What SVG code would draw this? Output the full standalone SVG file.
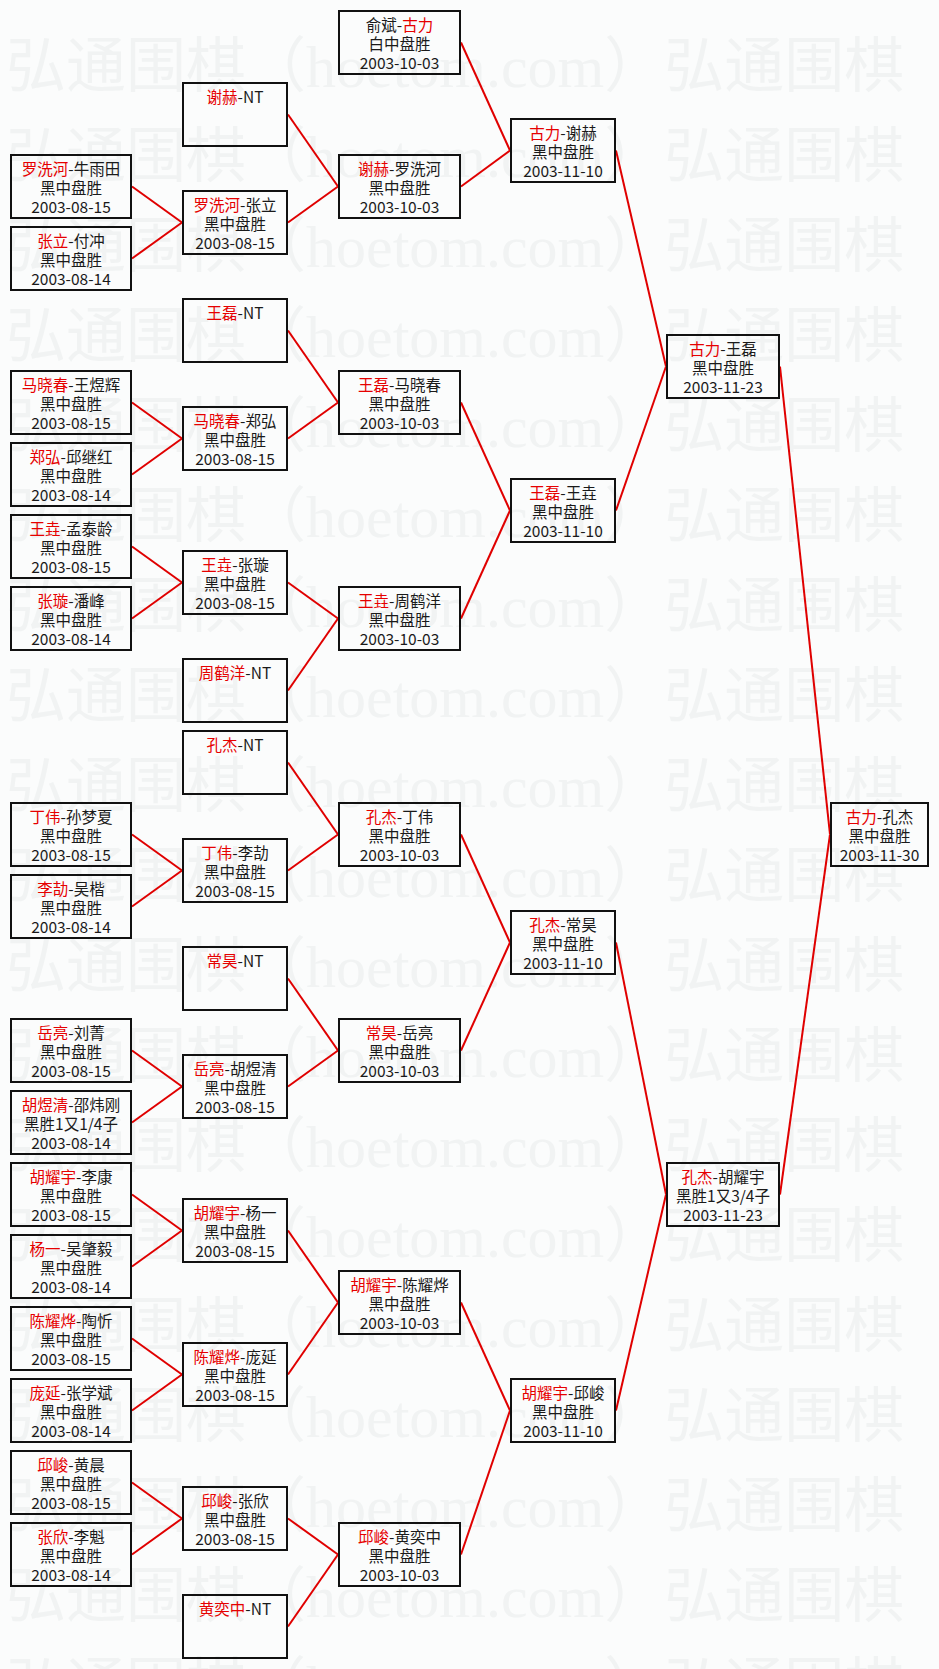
<svg xmlns="http://www.w3.org/2000/svg" xmlns:xlink="http://www.w3.org/1999/xlink" width="939" height="1669" viewBox="0 0 939 1669">
<style>
.bg{fill:#fbfcfc}
.wm{font-family:"Noto Sans CJK SC",sans-serif;font-size:60px;fill:#f1f3f3}
.wl{font-family:"Liberation Serif",serif}
.n rect{fill:none;stroke:#111;stroke-width:2}
.n text{font-family:"Noto Sans CJK SC",sans-serif;font-size:15.5px;fill:#1a1a1a;text-anchor:middle}
.r{fill:#e60000}
#links line{stroke:#e00000;stroke-width:2}
</style>
<defs>
<text id="wmrow" class="wm" x="6" y="0">弘通围棋（<tspan class="wl">hoetom.com</tspan>）弘通围棋（<tspan class="wl">hoetom.com</tspan>）</text>
</defs>
<rect class="bg" x="0" y="0" width="939" height="1669"/>
<g id="watermark">
<use xlink:href="#wmrow" y="87"/><use xlink:href="#wmrow" y="177"/><use xlink:href="#wmrow" y="267"/><use xlink:href="#wmrow" y="357"/><use xlink:href="#wmrow" y="447"/><use xlink:href="#wmrow" y="537"/><use xlink:href="#wmrow" y="627"/><use xlink:href="#wmrow" y="717"/><use xlink:href="#wmrow" y="807"/><use xlink:href="#wmrow" y="897"/><use xlink:href="#wmrow" y="987"/><use xlink:href="#wmrow" y="1077"/><use xlink:href="#wmrow" y="1167"/><use xlink:href="#wmrow" y="1257"/><use xlink:href="#wmrow" y="1347"/><use xlink:href="#wmrow" y="1437"/><use xlink:href="#wmrow" y="1527"/><use xlink:href="#wmrow" y="1617"/><use xlink:href="#wmrow" y="1707"/>
</g>
<g id="links">
<line x1="132" y1="186.5" x2="182" y2="222.5"/><line x1="132" y1="258.5" x2="182" y2="222.5"/>
<line x1="132" y1="402.5" x2="182" y2="438.5"/><line x1="132" y1="474.5" x2="182" y2="438.5"/>
<line x1="132" y1="546.5" x2="182" y2="582.5"/><line x1="132" y1="618.5" x2="182" y2="582.5"/>
<line x1="132" y1="834.5" x2="182" y2="870.5"/><line x1="132" y1="906.5" x2="182" y2="870.5"/>
<line x1="132" y1="1050.5" x2="182" y2="1086.5"/><line x1="132" y1="1122.5" x2="182" y2="1086.5"/>
<line x1="132" y1="1194.5" x2="182" y2="1230.5"/><line x1="132" y1="1266.5" x2="182" y2="1230.5"/>
<line x1="132" y1="1338.5" x2="182" y2="1374.5"/><line x1="132" y1="1410.5" x2="182" y2="1374.5"/>
<line x1="132" y1="1482.5" x2="182" y2="1518.5"/><line x1="132" y1="1554.5" x2="182" y2="1518.5"/>
<line x1="288" y1="114.5" x2="338" y2="186.5"/><line x1="288" y1="222.5" x2="338" y2="186.5"/>
<line x1="288" y1="330.5" x2="338" y2="402.5"/><line x1="288" y1="438.5" x2="338" y2="402.5"/>
<line x1="288" y1="582.5" x2="338" y2="618.5"/><line x1="288" y1="690.5" x2="338" y2="618.5"/>
<line x1="288" y1="762.5" x2="338" y2="834.5"/><line x1="288" y1="870.5" x2="338" y2="834.5"/>
<line x1="288" y1="978.5" x2="338" y2="1050.5"/><line x1="288" y1="1086.5" x2="338" y2="1050.5"/>
<line x1="288" y1="1230.5" x2="338" y2="1302.5"/><line x1="288" y1="1374.5" x2="338" y2="1302.5"/>
<line x1="288" y1="1518.5" x2="338" y2="1554.5"/><line x1="288" y1="1626.5" x2="338" y2="1554.5"/>
<line x1="461" y1="42.5" x2="510" y2="150.5"/><line x1="461" y1="186.5" x2="510" y2="150.5"/>
<line x1="461" y1="402.5" x2="510" y2="510.5"/><line x1="461" y1="618.5" x2="510" y2="510.5"/>
<line x1="461" y1="834.5" x2="510" y2="942.5"/><line x1="461" y1="1050.5" x2="510" y2="942.5"/>
<line x1="461" y1="1302.5" x2="510" y2="1410.5"/><line x1="461" y1="1554.5" x2="510" y2="1410.5"/>
<line x1="616" y1="150.5" x2="666" y2="366.5"/><line x1="616" y1="510.5" x2="666" y2="366.5"/>
<line x1="616" y1="942.5" x2="666" y2="1194.5"/><line x1="616" y1="1410.5" x2="666" y2="1194.5"/>
<line x1="780" y1="366.5" x2="830" y2="834.5"/><line x1="780" y1="1194.5" x2="830" y2="834.5"/>
</g>
<!-- Column A -->
<g id="a4" class="n"><rect x="11" y="155" width="120" height="63"/><text x="71" y="175"><tspan class="r">罗洗河</tspan>-牛雨田</text><text x="71" y="194">黑中盘胜</text><text x="71" y="212.5">2003-08-15</text></g>
<g id="a6" class="n"><rect x="11" y="227" width="120" height="63"/><text x="71" y="247"><tspan class="r">张立</tspan>-付冲</text><text x="71" y="266">黑中盘胜</text><text x="71" y="284.5">2003-08-14</text></g>
<g id="a10" class="n"><rect x="11" y="371" width="120" height="63"/><text x="71" y="391"><tspan class="r">马晓春</tspan>-王煜辉</text><text x="71" y="410">黑中盘胜</text><text x="71" y="428.5">2003-08-15</text></g>
<g id="a12" class="n"><rect x="11" y="443" width="120" height="63"/><text x="71" y="463"><tspan class="r">郑弘</tspan>-邱继红</text><text x="71" y="482">黑中盘胜</text><text x="71" y="500.5">2003-08-14</text></g>
<g id="a14" class="n"><rect x="11" y="515" width="120" height="63"/><text x="71" y="535"><tspan class="r">王垚</tspan>-孟泰龄</text><text x="71" y="554">黑中盘胜</text><text x="71" y="572.5">2003-08-15</text></g>
<g id="a16" class="n"><rect x="11" y="587" width="120" height="63"/><text x="71" y="607"><tspan class="r">张璇</tspan>-潘峰</text><text x="71" y="626">黑中盘胜</text><text x="71" y="644.5">2003-08-14</text></g>
<g id="a22" class="n"><rect x="11" y="803" width="120" height="63"/><text x="71" y="823"><tspan class="r">丁伟</tspan>-孙梦夏</text><text x="71" y="842">黑中盘胜</text><text x="71" y="860.5">2003-08-15</text></g>
<g id="a24" class="n"><rect x="11" y="875" width="120" height="63"/><text x="71" y="895"><tspan class="r">李劼</tspan>-吴楷</text><text x="71" y="914">黑中盘胜</text><text x="71" y="932.5">2003-08-14</text></g>
<g id="a28" class="n"><rect x="11" y="1019" width="120" height="63"/><text x="71" y="1039"><tspan class="r">岳亮</tspan>-刘菁</text><text x="71" y="1058">黑中盘胜</text><text x="71" y="1076.5">2003-08-15</text></g>
<g id="a30" class="n"><rect x="11" y="1091" width="120" height="63"/><text x="71" y="1111"><tspan class="r">胡煜清</tspan>-邵炜刚</text><text x="71" y="1130">黑胜1又1/4子</text><text x="71" y="1148.5">2003-08-14</text></g>
<g id="a32" class="n"><rect x="11" y="1163" width="120" height="63"/><text x="71" y="1183"><tspan class="r">胡耀宇</tspan>-李康</text><text x="71" y="1202">黑中盘胜</text><text x="71" y="1220.5">2003-08-15</text></g>
<g id="a34" class="n"><rect x="11" y="1235" width="120" height="63"/><text x="71" y="1255"><tspan class="r">杨一</tspan>-吴肇毅</text><text x="71" y="1274">黑中盘胜</text><text x="71" y="1292.5">2003-08-14</text></g>
<g id="a36" class="n"><rect x="11" y="1307" width="120" height="63"/><text x="71" y="1327"><tspan class="r">陈耀烨</tspan>-陶忻</text><text x="71" y="1346">黑中盘胜</text><text x="71" y="1364.5">2003-08-15</text></g>
<g id="a38" class="n"><rect x="11" y="1379" width="120" height="63"/><text x="71" y="1399"><tspan class="r">庞延</tspan>-张学斌</text><text x="71" y="1418">黑中盘胜</text><text x="71" y="1436.5">2003-08-14</text></g>
<g id="a40" class="n"><rect x="11" y="1451" width="120" height="63"/><text x="71" y="1471"><tspan class="r">邱峻</tspan>-黄晨</text><text x="71" y="1490">黑中盘胜</text><text x="71" y="1508.5">2003-08-15</text></g>
<g id="a42" class="n"><rect x="11" y="1523" width="120" height="63"/><text x="71" y="1543"><tspan class="r">张欣</tspan>-李魁</text><text x="71" y="1562">黑中盘胜</text><text x="71" y="1580.5">2003-08-14</text></g>
<!-- Column B -->
<g id="b2" class="n"><rect x="183" y="83" width="104" height="63"/><text x="235" y="103"><tspan class="r">谢赫</tspan>-NT</text></g>
<g id="b5" class="n"><rect x="183" y="191" width="104" height="63"/><text x="235" y="211"><tspan class="r">罗洗河</tspan>-张立</text><text x="235" y="230">黑中盘胜</text><text x="235" y="248.5">2003-08-15</text></g>
<g id="b8" class="n"><rect x="183" y="299" width="104" height="63"/><text x="235" y="319"><tspan class="r">王磊</tspan>-NT</text></g>
<g id="b11" class="n"><rect x="183" y="407" width="104" height="63"/><text x="235" y="427"><tspan class="r">马晓春</tspan>-郑弘</text><text x="235" y="446">黑中盘胜</text><text x="235" y="464.5">2003-08-15</text></g>
<g id="b15" class="n"><rect x="183" y="551" width="104" height="63"/><text x="235" y="571"><tspan class="r">王垚</tspan>-张璇</text><text x="235" y="590">黑中盘胜</text><text x="235" y="608.5">2003-08-15</text></g>
<g id="b18" class="n"><rect x="183" y="659" width="104" height="63"/><text x="235" y="679"><tspan class="r">周鹤洋</tspan>-NT</text></g>
<g id="b20" class="n"><rect x="183" y="731" width="104" height="63"/><text x="235" y="751"><tspan class="r">孔杰</tspan>-NT</text></g>
<g id="b23" class="n"><rect x="183" y="839" width="104" height="63"/><text x="235" y="859"><tspan class="r">丁伟</tspan>-李劼</text><text x="235" y="878">黑中盘胜</text><text x="235" y="896.5">2003-08-15</text></g>
<g id="b26" class="n"><rect x="183" y="947" width="104" height="63"/><text x="235" y="967"><tspan class="r">常昊</tspan>-NT</text></g>
<g id="b29" class="n"><rect x="183" y="1055" width="104" height="63"/><text x="235" y="1075"><tspan class="r">岳亮</tspan>-胡煜清</text><text x="235" y="1094">黑中盘胜</text><text x="235" y="1112.5">2003-08-15</text></g>
<g id="b33" class="n"><rect x="183" y="1199" width="104" height="63"/><text x="235" y="1219"><tspan class="r">胡耀宇</tspan>-杨一</text><text x="235" y="1238">黑中盘胜</text><text x="235" y="1256.5">2003-08-15</text></g>
<g id="b37" class="n"><rect x="183" y="1343" width="104" height="63"/><text x="235" y="1363"><tspan class="r">陈耀烨</tspan>-庞延</text><text x="235" y="1382">黑中盘胜</text><text x="235" y="1400.5">2003-08-15</text></g>
<g id="b41" class="n"><rect x="183" y="1487" width="104" height="63"/><text x="235" y="1507"><tspan class="r">邱峻</tspan>-张欣</text><text x="235" y="1526">黑中盘胜</text><text x="235" y="1544.5">2003-08-15</text></g>
<g id="b44" class="n"><rect x="183" y="1595" width="104" height="63"/><text x="235" y="1615"><tspan class="r">黄奕中</tspan>-NT</text></g>
<!-- Column C -->
<g id="c0" class="n"><rect x="339" y="11" width="121" height="63"/><text x="399.5" y="31">俞斌-<tspan class="r">古力</tspan></text><text x="399.5" y="50">白中盘胜</text><text x="399.5" y="68.5">2003-10-03</text></g>
<g id="c4" class="n"><rect x="339" y="155" width="121" height="63"/><text x="399.5" y="175"><tspan class="r">谢赫</tspan>-罗洗河</text><text x="399.5" y="194">黑中盘胜</text><text x="399.5" y="212.5">2003-10-03</text></g>
<g id="c10" class="n"><rect x="339" y="371" width="121" height="63"/><text x="399.5" y="391"><tspan class="r">王磊</tspan>-马晓春</text><text x="399.5" y="410">黑中盘胜</text><text x="399.5" y="428.5">2003-10-03</text></g>
<g id="c16" class="n"><rect x="339" y="587" width="121" height="63"/><text x="399.5" y="607"><tspan class="r">王垚</tspan>-周鹤洋</text><text x="399.5" y="626">黑中盘胜</text><text x="399.5" y="644.5">2003-10-03</text></g>
<g id="c22" class="n"><rect x="339" y="803" width="121" height="63"/><text x="399.5" y="823"><tspan class="r">孔杰</tspan>-丁伟</text><text x="399.5" y="842">黑中盘胜</text><text x="399.5" y="860.5">2003-10-03</text></g>
<g id="c28" class="n"><rect x="339" y="1019" width="121" height="63"/><text x="399.5" y="1039"><tspan class="r">常昊</tspan>-岳亮</text><text x="399.5" y="1058">黑中盘胜</text><text x="399.5" y="1076.5">2003-10-03</text></g>
<g id="c35" class="n"><rect x="339" y="1271" width="121" height="63"/><text x="399.5" y="1291"><tspan class="r">胡耀宇</tspan>-陈耀烨</text><text x="399.5" y="1310">黑中盘胜</text><text x="399.5" y="1328.5">2003-10-03</text></g>
<g id="c42" class="n"><rect x="339" y="1523" width="121" height="63"/><text x="399.5" y="1543"><tspan class="r">邱峻</tspan>-黄奕中</text><text x="399.5" y="1562">黑中盘胜</text><text x="399.5" y="1580.5">2003-10-03</text></g>
<!-- Column D -->
<g id="d3" class="n"><rect x="511" y="119" width="104" height="63"/><text x="563" y="139"><tspan class="r">古力</tspan>-谢赫</text><text x="563" y="158">黑中盘胜</text><text x="563" y="176.5">2003-11-10</text></g>
<g id="d13" class="n"><rect x="511" y="479" width="104" height="63"/><text x="563" y="499"><tspan class="r">王磊</tspan>-王垚</text><text x="563" y="518">黑中盘胜</text><text x="563" y="536.5">2003-11-10</text></g>
<g id="d25" class="n"><rect x="511" y="911" width="104" height="63"/><text x="563" y="931"><tspan class="r">孔杰</tspan>-常昊</text><text x="563" y="950">黑中盘胜</text><text x="563" y="968.5">2003-11-10</text></g>
<g id="d38" class="n"><rect x="511" y="1379" width="104" height="63"/><text x="563" y="1399"><tspan class="r">胡耀宇</tspan>-邱峻</text><text x="563" y="1418">黑中盘胜</text><text x="563" y="1436.5">2003-11-10</text></g>
<!-- Column E -->
<g id="e9" class="n"><rect x="667" y="335" width="112" height="63"/><text x="723" y="355"><tspan class="r">古力</tspan>-王磊</text><text x="723" y="374">黑中盘胜</text><text x="723" y="392.5">2003-11-23</text></g>
<g id="e32" class="n"><rect x="667" y="1163" width="112" height="63"/><text x="723" y="1183"><tspan class="r">孔杰</tspan>-胡耀宇</text><text x="723" y="1202">黑胜1又3/4子</text><text x="723" y="1220.5">2003-11-23</text></g>
<!-- Column F -->
<g id="f22" class="n"><rect x="831" y="803" width="97" height="63"/><text x="879.5" y="823"><tspan class="r">古力</tspan>-孔杰</text><text x="879.5" y="842">黑中盘胜</text><text x="879.5" y="860.5">2003-11-30</text></g>
</svg>
